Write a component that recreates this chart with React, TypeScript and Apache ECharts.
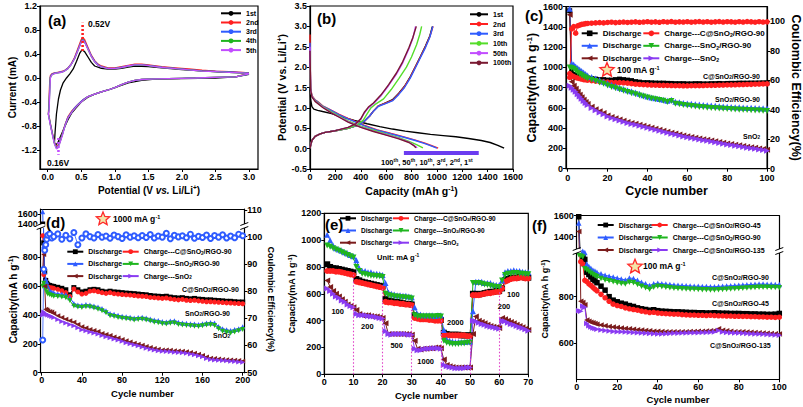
import React, { useEffect, useRef } from 'react';
import * as echarts from 'echarts';

const FONT = '"Liberation Sans", Arial, Helvetica, sans-serif';
const BLACK = '#000000';
const RED = '#ff2020';
const BLUE = '#2f5cff';
const GREEN = '#1fb51f';
const MAROON = '#7b1c1c';
const PURPLE = '#8a3bf2';
const VIOLET = '#c24dff';
const LIME = '#55dd2a';
const WINE = '#7a1a32';
const PINK = '#e040c8';

// ---------- (a) cyclic voltammetry ----------
const cvV = [3.0, 2.8, 2.5, 2.2, 2.0, 1.8, 1.6, 1.4, 1.3, 1.2, 1.1, 1.0, 0.9, 0.8, 0.7, 0.6, 0.53, 0.45, 0.4, 0.36, 0.3, 0.26, 0.22, 0.18, 0.15, 0.13, 0.1, 0.07, 0.04, 0.02, 0.01,
  0.02, 0.03, 0.04, 0.06, 0.1, 0.15, 0.2, 0.25, 0.3, 0.35, 0.4, 0.45, 0.5, 0.52, 0.55, 0.6, 0.65, 0.7, 0.75, 0.8, 0.9, 1.0, 1.1, 1.2, 1.3, 1.4, 1.5, 1.7, 1.9, 2.1, 2.3, 2.5, 2.7, 2.9, 3.0];
const cvI2 = [0.08, 0.02, 0.01, 0.0, -0.005, -0.01, -0.015, -0.025, -0.04, -0.07, -0.11, -0.16, -0.2, -0.23, -0.27, -0.31, -0.36, -0.44, -0.5, -0.55, -0.65, -0.77, -0.92, -1.06, -1.13, -1.14, -1.07, -0.92, -0.76, -0.64, -0.6,
  -0.35, -0.05, 0.04, 0.07, 0.085, 0.095, 0.105, 0.125, 0.165, 0.235, 0.34, 0.49, 0.64, 0.68, 0.64, 0.51, 0.38, 0.29, 0.23, 0.2, 0.17, 0.17, 0.19, 0.21, 0.23, 0.23, 0.22, 0.19, 0.17, 0.15, 0.13, 0.115, 0.105, 0.095, 0.085];
const cvI3 = [0.07, 0.02, 0.01, 0.0, -0.005, -0.01, -0.015, -0.025, -0.04, -0.07, -0.11, -0.16, -0.2, -0.23, -0.27, -0.31, -0.36, -0.44, -0.5, -0.56, -0.66, -0.78, -0.93, -1.07, -1.15, -1.16, -1.08, -0.93, -0.77, -0.66, -0.61,
  -0.45, -0.15, 0.02, 0.06, 0.08, 0.09, 0.1, 0.12, 0.16, 0.23, 0.33, 0.47, 0.61, 0.65, 0.61, 0.49, 0.37, 0.28, 0.22, 0.19, 0.16, 0.16, 0.18, 0.2, 0.22, 0.22, 0.21, 0.18, 0.16, 0.14, 0.12, 0.11, 0.1, 0.09, 0.08];
const cvI4 = [0.07, 0.02, 0.01, 0.0, -0.005, -0.01, -0.015, -0.025, -0.04, -0.07, -0.11, -0.16, -0.2, -0.23, -0.27, -0.31, -0.37, -0.45, -0.51, -0.57, -0.67, -0.79, -0.94, -1.08, -1.16, -1.17, -1.09, -0.94, -0.78, -0.66, -0.6,
  -0.5, -0.2, 0.01, 0.05, 0.075, 0.085, 0.095, 0.115, 0.155, 0.225, 0.32, 0.46, 0.6, 0.64, 0.6, 0.48, 0.36, 0.27, 0.21, 0.185, 0.155, 0.155, 0.175, 0.195, 0.215, 0.215, 0.205, 0.175, 0.155, 0.135, 0.115, 0.105, 0.095, 0.085, 0.075];
const cvI5 = [0.07, 0.02, 0.01, 0.0, -0.005, -0.01, -0.015, -0.025, -0.04, -0.07, -0.11, -0.16, -0.2, -0.23, -0.27, -0.31, -0.37, -0.45, -0.51, -0.57, -0.67, -0.79, -0.95, -1.09, -1.17, -1.18, -1.1, -0.95, -0.79, -0.67, -0.6,
  -0.55, -0.25, 0.0, 0.05, 0.075, 0.085, 0.095, 0.115, 0.155, 0.225, 0.32, 0.46, 0.6, 0.63, 0.6, 0.48, 0.36, 0.27, 0.21, 0.185, 0.155, 0.155, 0.175, 0.2, 0.22, 0.22, 0.205, 0.175, 0.155, 0.135, 0.115, 0.105, 0.095, 0.085, 0.075];
const cv1V = [3.0, 2.8, 2.5, 2.0, 1.6, 1.4, 1.2, 1.0, 0.9, 0.8, 0.7, 0.6, 0.5, 0.42, 0.36, 0.3, 0.25, 0.2, 0.15, 0.12, 0.1, 0.11, 0.13, 0.16, 0.19, 0.23, 0.28, 0.33, 0.38, 0.43, 0.48, 0.51, 0.55, 0.6, 0.65, 0.7, 0.8, 0.9, 1.0, 1.1, 1.2, 1.3, 1.5, 1.7, 2.0, 2.3, 2.6, 3.0];
const cv1I = [0.06, 0.02, 0.0, -0.01, -0.02, -0.04, -0.08, -0.16, -0.2, -0.23, -0.27, -0.32, -0.4, -0.5, -0.58, -0.7, -0.82, -0.95, -1.08, -1.12, -1.08, -0.9, -0.6, -0.35, -0.2, -0.08, 0.0, 0.07, 0.15, 0.28, 0.42, 0.47, 0.44, 0.35, 0.26, 0.2, 0.16, 0.15, 0.15, 0.16, 0.18, 0.2, 0.19, 0.17, 0.14, 0.12, 0.1, 0.08];
const cvPeakOx = [[0.52, 0.45], [0.52, 0.92]];
const cvPeakRed = [[0.16, -1.0], [0.16, -1.28]];
const cvTicksX = [0, 0.5, 1, 1.5, 2, 2.5, 3];
const cvTicksY = [-1.2, -0.8, -0.4, 0, 0.4, 0.8, 1.2];

// ---------- (b) charge / discharge profiles [capacity, V] ----------
const b1Dis = [[0, 1.5], [5, 1.2], [15, 1.03], [30, 0.97], [60, 0.94], [100, 0.91], [170, 0.86], [250, 0.78], [350, 0.69], [450, 0.61], [550, 0.54], [650, 0.48], [750, 0.43], [850, 0.39], [950, 0.35], [1050, 0.32], [1150, 0.29], [1250, 0.25], [1350, 0.2], [1420, 0.15], [1480, 0.08], [1530, 0.01]];
const b1Chg = [[0, 0.01], [5, 0.08], [15, 0.2], [40, 0.3], [80, 0.36], [120, 0.4], [200, 0.44], [300, 0.5], [380, 0.58], [430, 0.68], [470, 0.8], [500, 0.92], [540, 1.05], [600, 1.13], [650, 1.2], [700, 1.36], [745, 1.53], [790, 1.76], [830, 2.01], [870, 2.26], [910, 2.52], [945, 2.77], [965, 3.0]];
const b2Dis = [[0, 2.8], [2, 2.0], [5, 1.5], [15, 1.3], [40, 1.2], [63, 1.15], [100, 1.05], [170, 0.94], [230, 0.84], [300, 0.74], [430, 0.57], [530, 0.46], [640, 0.37], [740, 0.29], [830, 0.21], [900, 0.14], [960, 0.07], [1010, 0.01]];
const b2Chg = [[0, 0.01], [5, 0.08], [15, 0.2], [40, 0.3], [80, 0.36], [120, 0.4], [200, 0.44], [300, 0.5], [380, 0.58], [430, 0.68], [470, 0.8], [500, 0.92], [540, 1.05], [600, 1.12], [653, 1.19], [700, 1.35], [745, 1.52], [790, 1.75], [830, 2.0], [870, 2.25], [910, 2.5], [945, 2.75], [970, 3.0]];
const b3Dis = [[0, 2.6], [2, 1.9], [5, 1.48], [15, 1.29], [40, 1.19], [63, 1.14], [100, 1.04], [170, 0.93], [230, 0.83], [300, 0.73], [430, 0.56], [530, 0.45], [640, 0.36], [740, 0.28], [830, 0.2], [900, 0.13], [960, 0.06], [1000, 0.01]];
const b3Chg = [[0, 0.01], [5, 0.08], [15, 0.2], [40, 0.3], [80, 0.36], [120, 0.4], [200, 0.44], [300, 0.5], [380, 0.58], [430, 0.68], [470, 0.8], [500, 0.92], [540, 1.04], [600, 1.11], [653, 1.18], [700, 1.33], [745, 1.5], [790, 1.73], [830, 1.98], [870, 2.23], [910, 2.48], [945, 2.74], [968, 3.0]];
const b10Dis = [[0, 2.0], [5, 1.45], [15, 1.28], [40, 1.18], [100, 1.03], [170, 0.9], [230, 0.8], [300, 0.68], [400, 0.55], [500, 0.45], [600, 0.36], [700, 0.27], [780, 0.18], [840, 0.1], [890, 0.02]];
const b10Chg = [[0, 0.01], [5, 0.08], [15, 0.2], [40, 0.3], [80, 0.36], [120, 0.4], [200, 0.44], [300, 0.5], [370, 0.58], [420, 0.7], [450, 0.85], [480, 1.0], [520, 1.1], [580, 1.22], [640, 1.45], [700, 1.72], [760, 2.0], [800, 2.25], [840, 2.55], [865, 2.8], [880, 3.0]];
const b50Dis = [[0, 2.5], [5, 1.45], [15, 1.28], [40, 1.17], [100, 1.02], [170, 0.88], [230, 0.78], [300, 0.66], [400, 0.53], [500, 0.43], [600, 0.34], [700, 0.25], [780, 0.16], [820, 0.08], [845, 0.02]];
const b50Chg = [[0, 0.01], [5, 0.08], [15, 0.2], [40, 0.3], [80, 0.36], [120, 0.4], [200, 0.44], [300, 0.52], [360, 0.6], [400, 0.72], [430, 0.88], [460, 1.0], [500, 1.1], [560, 1.3], [620, 1.55], [680, 1.82], [730, 2.1], [780, 2.45], [810, 2.7], [832, 3.0]];
const b100Dis = [[0, 2.4], [5, 1.44], [15, 1.27], [40, 1.16], [100, 1.01], [170, 0.87], [230, 0.77], [300, 0.65], [400, 0.52], [500, 0.42], [600, 0.33], [700, 0.24], [780, 0.15], [815, 0.08], [835, 0.02]];
const b100Chg = [[0, 0.01], [5, 0.08], [15, 0.2], [40, 0.3], [80, 0.36], [120, 0.4], [200, 0.44], [300, 0.52], [360, 0.61], [400, 0.73], [430, 0.9], [460, 1.02], [500, 1.12], [560, 1.32], [620, 1.57], [680, 1.85], [730, 2.13], [780, 2.48], [810, 2.72], [838, 3.0]];
const bArrow = [[740, -0.1], [1330, -0.1]];

// ---------- (c) & (f) cycle index ----------
const cycles100 = [1, 2, 3, 4, 5, 6, 7, 8, 9, 10, 12, 14, 16, 18, 20, 22, 24, 26, 28, 30, 32, 34, 36, 38, 40, 42, 44, 46, 48, 50, 52, 54, 56, 58, 60, 62, 64, 66, 68, 70, 72, 74, 76, 78, 80, 82, 84, 86, 88, 90, 92, 94, 96, 98, 100];

// (c) 100 mA g-1
const cDisC = [1560, 960, 930, 920, 915, 910, 905, 900, 900, 895, 890, 885, 880, 880, 875, 875, 880, 885, 880, 875, 870, 860, 855, 850, 850, 848, 846, 845, 845, 843, 842, 840, 840, 840, 838, 838, 840, 840, 838, 838, 840, 840, 842, 840, 842, 843, 843, 845, 845, 845, 846, 846, 847, 848, 848];
const cChgC = [940, 920, 910, 900, 895, 890, 885, 880, 878, 875, 870, 865, 860, 858, 855, 852, 850, 850, 848, 845, 840, 835, 832, 830, 828, 826, 825, 824, 823, 822, 821, 820, 820, 819, 819, 820, 820, 820, 821, 822, 823, 824, 825, 826, 827, 828, 829, 830, 831, 832, 833, 835, 836, 837, 838];
const cDisS = [1580, 1040, 1030, 1010, 995, 980, 965, 950, 935, 920, 905, 890, 875, 860, 845, 830, 815, 800, 788, 775, 765, 752, 740, 725, 712, 703, 695, 688, 680, 672, 682, 662, 656, 650, 645, 641, 637, 633, 630, 627, 624, 621, 618, 615, 612, 610, 608, 606, 604, 603, 601, 600, 598, 597, 595];
const cChgS = [1000, 995, 985, 970, 950, 935, 922, 910, 900, 890, 878, 866, 852, 838, 822, 808, 795, 782, 770, 758, 746, 735, 724, 714, 702, 694, 686, 678, 670, 660, 668, 642, 636, 630, 624, 619, 614, 610, 606, 603, 600, 597, 594, 591, 589, 587, 585, 583, 581, 579, 578, 576, 574, 572, 570];
const cDisO = [1520, 860, 820, 790, 760, 730, 705, 680, 660, 640, 612, 588, 568, 550, 525, 510, 498, 486, 474, 462, 452, 443, 434, 424, 415, 405, 395, 385, 375, 365, 356, 347, 338, 329, 320, 313, 306, 299, 292, 285, 278, 271, 264, 257, 250, 244, 237, 231, 224, 218, 212, 206, 200, 194, 188];
const cChgO = [820, 800, 780, 760, 735, 712, 690, 668, 648, 628, 600, 577, 556, 538, 515, 500, 488, 476, 464, 452, 442, 433, 424, 414, 405, 395, 385, 375, 365, 355, 346, 337, 328, 319, 310, 303, 296, 289, 282, 275, 268, 261, 254, 247, 240, 234, 227, 221, 214, 208, 202, 196, 190, 184, 178];
const cCE = [62, 95, 96.5, 92, 97, 97.5, 98, 98.2, 98.5, 98.6, 98.8, 99, 99.2, 99, 99.3, 99.5, 99.2, 99.4, 99.6, 99.3, 99.5, 99.7, 99.4, 99.6, 99.8, 99.5, 99.7, 99.4, 99.8, 99.6, 99.9, 99.5, 99.7, 99.6, 99.8, 99.5, 99.7, 99.9, 99.6, 99.8, 99.5, 99.7, 99.9, 99.6, 99.8, 99.7, 99.5, 99.8, 99.6, 99.9, 99.7, 99.5, 99.8, 99.6, 99.7];

// ---------- (d) 1000 mA g-1 ----------
const cyclesD = [1, 2, 3, 4, 5, 6, 8, 10, 12, 16, 20, 24, 28, 32, 36, 40, 44, 48, 52, 56, 60, 64, 68, 72, 76, 80, 84, 88, 92, 96, 100, 104, 108, 112, 116, 120, 124, 128, 132, 136, 140, 144, 148, 152, 156, 160, 164, 168, 172, 176, 180, 184, 188, 192, 196, 200];
const dDisC = [1400, 900, 700, 640, 620, 610, 605, 600, 598, 592, 585, 575, 540, 590, 575, 560, 565, 575, 578, 575, 565, 560, 565, 560, 558, 555, 552, 550, 548, 545, 542, 540, 535, 532, 530, 528, 530, 524, 520, 518, 520, 515, 512, 515, 510, 508, 505, 505, 502, 500, 498, 495, 495, 492, 490, 490];
const dChgC = [950, 680, 620, 605, 598, 595, 590, 588, 585, 578, 568, 555, 528, 580, 560, 545, 550, 565, 568, 562, 555, 550, 555, 548, 545, 542, 540, 538, 535, 532, 530, 528, 522, 520, 518, 515, 518, 512, 508, 505, 508, 502, 500, 502, 498, 495, 492, 492, 490, 488, 486, 484, 483, 481, 480, 478];
const dDisS = [1650, 880, 700, 650, 630, 600, 570, 560, 555, 548, 545, 540, 520, 480, 470, 468, 472, 470, 462, 455, 445, 430, 410, 405, 398, 392, 388, 385, 380, 382, 385, 380, 372, 365, 362, 355, 352, 358, 360, 350, 345, 342, 340, 338, 335, 340, 345, 348, 345, 320, 305, 298, 292, 300, 305, 318];
const dChgS = [600, 620, 600, 580, 560, 545, 540, 535, 530, 528, 525, 520, 500, 462, 455, 452, 458, 455, 448, 440, 430, 415, 395, 390, 382, 378, 374, 370, 365, 368, 370, 365, 358, 350, 346, 340, 338, 342, 345, 335, 330, 328, 325, 322, 320, 325, 330, 332, 328, 305, 288, 280, 275, 282, 290, 300];
const dDisO = [720, 820, 600, 440, 435, 430, 425, 420, 410, 395, 382, 370, 360, 350, 335, 318, 310, 300, 292, 285, 272, 265, 258, 248, 240, 230, 222, 212, 205, 198, 190, 182, 175, 168, 162, 158, 158, 155, 152, 150, 148, 145, 140, 135, 128, 120, 108, 100, 98, 95, 92, 90, 88, 86, 84, 80];
const dChgO = [400, 420, 410, 408, 405, 400, 395, 390, 382, 368, 355, 345, 335, 325, 312, 298, 290, 282, 275, 268, 258, 250, 242, 234, 226, 218, 208, 200, 193, 186, 178, 170, 163, 157, 152, 148, 147, 145, 142, 140, 138, 135, 130, 125, 118, 110, 98, 92, 88, 86, 84, 82, 80, 78, 75, 72];
const dCE = [62, 88, 95, 97, 99, 100.5, 101, 99.5, 100, 101, 99, 100.5, 99.2, 101.5, 97, 99.5, 101, 100, 99.5, 100.8, 99.8, 100.2, 99.4, 100.6, 100, 99.3, 100.7, 99.8, 100.3, 99.6, 100.4, 99.7, 100.8, 99.5, 100.2, 99.8, 101.2, 99.2, 100.5, 99.9, 100.3, 99.6, 100.9, 99.4, 100.1, 99.7, 100.6, 99.3, 100.4, 99.8, 100.7, 99.5, 100.2, 99.6, 100.9, 100.3];

// ---------- (e) rate capability ----------
const cyclesE = [1, 2, 3, 4, 5, 6, 7, 8, 9, 10, 11, 12, 13, 14, 15, 16, 17, 18, 19, 20, 21, 22, 23, 24, 25, 26, 27, 28, 29, 30, 31, 32, 33, 34, 35, 36, 37, 38, 39, 40, 41, 42, 43, 44, 45, 46, 47, 48, 49, 50, 51, 52, 53, 54, 55, 56, 57, 58, 59, 60, 61, 62, 63, 64, 65, 66, 67, 68, 69, 70];
const eDisC = [820, 800, 790, 790, 785, 780, 775, 770, 765, 760, 710, 700, 690, 685, 680, 675, 670, 665, 660, 655, 560, 550, 545, 540, 540, 535, 530, 525, 525, 520, 440, 430, 425, 420, 420, 415, 415, 410, 410, 405, 310, 300, 295, 295, 295, 295, 290, 290, 290, 290, 600, 600, 595, 600, 605, 610, 615, 615, 620, 620, 640, 700, 710, 720, 720, 720, 725, 725, 720, 720];
const eChgC = [770, 770, 770, 765, 765, 760, 755, 750, 745, 740, 690, 685, 680, 675, 670, 665, 660, 655, 650, 645, 540, 535, 535, 530, 530, 525, 525, 520, 520, 515, 420, 415, 410, 410, 410, 405, 405, 400, 400, 400, 290, 290, 290, 290, 290, 290, 290, 290, 285, 285, 590, 590, 590, 595, 600, 605, 605, 610, 615, 615, 640, 690, 700, 710, 715, 715, 720, 720, 715, 715];
const eDisS = [1040, 1000, 960, 940, 930, 920, 910, 900, 890, 880, 850, 790, 770, 770, 760, 760, 750, 750, 745, 740, 680, 610, 600, 595, 590, 590, 585, 585, 580, 575, 500, 450, 445, 440, 440, 440, 440, 435, 440, 440, 330, 260, 250, 245, 240, 240, 240, 240, 245, 245, 470, 690, 690, 690, 680, 680, 680, 670, 665, 665, 700, 760, 770, 770, 775, 770, 770, 765, 760, 760];
const eChgS = [960, 950, 940, 930, 920, 910, 900, 890, 880, 870, 800, 770, 750, 745, 740, 735, 735, 730, 730, 725, 600, 590, 585, 580, 580, 575, 575, 570, 570, 565, 440, 430, 430, 430, 430, 430, 430, 430, 435, 430, 250, 235, 230, 225, 225, 225, 230, 230, 235, 235, 680, 680, 680, 675, 670, 665, 660, 655, 650, 650, 700, 740, 750, 750, 755, 755, 750, 750, 745, 745];
const eDisO = [700, 650, 620, 600, 580, 560, 540, 520, 510, 500, 480, 450, 440, 440, 440, 435, 430, 430, 425, 420, 380, 300, 300, 300, 300, 300, 300, 300, 300, 295, 250, 190, 185, 190, 190, 195, 195, 200, 200, 195, 110, 70, 60, 55, 50, 50, 50, 50, 50, 50, 300, 430, 400, 390, 380, 370, 360, 355, 350, 345, 420, 410, 400, 390, 380, 370, 360, 350, 340, 330];
const eChgO = [640, 620, 600, 580, 570, 550, 540, 520, 510, 500, 450, 440, 440, 440, 435, 430, 430, 425, 420, 415, 320, 300, 295, 300, 300, 300, 300, 300, 295, 295, 190, 180, 180, 185, 190, 190, 195, 195, 195, 190, 70, 60, 55, 50, 45, 45, 45, 45, 50, 50, 400, 395, 385, 375, 370, 360, 355, 350, 345, 340, 400, 395, 385, 375, 370, 360, 350, 345, 335, 325];
const rateEdges = [10, 20, 30, 40, 50, 60];
const rateEdgeTops = [760, 655, 520, 405, 290, 620];

// ---------- (f) 100 mA g-1, different RGO ----------
const fDis45 = [1590, 1080, 970, 960, 905, 895, 885, 875, 868, 860, 845, 828, 800, 785, 778, 772, 768, 762, 758, 752, 748, 745, 742, 744, 740, 738, 737, 736, 735, 735, 734, 733, 732, 732, 731, 731, 730, 730, 731, 730, 729, 729, 728, 728, 728, 727, 727, 726, 726, 725, 725, 724, 724, 725, 728];
const fChg45 = [1000, 950, 940, 870, 865, 855, 848, 840, 832, 825, 810, 795, 780, 768, 762, 758, 752, 748, 745, 742, 738, 735, 732, 733, 730, 728, 727, 726, 725, 725, 723, 722, 721, 721, 720, 720, 719, 720, 719, 718, 718, 717, 717, 716, 716, 715, 715, 714, 714, 713, 713, 712, 712, 711, 712];
const fDis90 = [1530, 1000, 995, 990, 940, 930, 922, 915, 910, 905, 898, 892, 888, 884, 880, 876, 872, 880, 878, 870, 862, 855, 848, 855, 858, 856, 854, 852, 850, 849, 848, 847, 846, 845, 845, 844, 844, 843, 843, 844, 845, 846, 847, 848, 849, 850, 851, 852, 853, 854, 854, 853, 853, 852, 852];
const fChg90 = [980, 975, 970, 920, 915, 908, 900, 895, 890, 885, 878, 872, 868, 864, 860, 857, 854, 862, 860, 852, 845, 838, 832, 840, 845, 843, 840, 838, 836, 835, 834, 833, 832, 832, 831, 830, 830, 829, 829, 830, 831, 832, 833, 834, 835, 836, 837, 838, 839, 840, 840, 840, 839, 839, 838];
const fDis135 = [1450, 780, 775, 765, 700, 695, 690, 688, 685, 682, 678, 675, 672, 670, 668, 666, 664, 662, 660, 658, 657, 655, 654, 652, 652, 651, 650, 650, 650, 650, 650, 650, 651, 651, 652, 652, 653, 654, 655, 662, 656, 654, 652, 650, 650, 649, 648, 647, 646, 645, 644, 643, 642, 641, 640];
const fChg135 = [740, 738, 760, 755, 685, 675, 670, 666, 663, 660, 657, 655, 653, 651, 650, 649, 648, 647, 646, 645, 644, 643, 642, 641, 640, 640, 641, 642, 643, 643, 644, 644, 645, 645, 645, 646, 646, 647, 648, 655, 648, 646, 645, 644, 644, 643, 642, 641, 640, 640, 639, 638, 637, 636, 635];

const legendLabels: Record<string, string> = {
  a1: '1st', a2: '2nd', a3: '3rd', a4: '4th', a5: '5th',
  b1: '1st', b2: '2nd', b3: '3rd', b10: '10th', b50: '50th', b100: '100th',
  c_d1: 'Discharge', c_d2: 'Discharge', c_d3: 'Discharge',
  c_c1: 'Charge---C@SnO{sub|2}/RGO-90', c_c2: 'Charge---SnO{sub|2}/RGO-90', c_c3: 'Charge---SnO{sub|2}',
  d_d1: 'Discharge', d_d2: 'Discharge', d_d3: 'Discharge',
  d_c1: 'Charge---C@SnO{sub|2}/RGO-90', d_c2: 'Charge---SnO{sub|2}/RGO-90', d_c3: 'Charge---SnO{sub|2}',
  e_d1: 'Discharge', e_d2: 'Discharge', e_d3: 'Discharge',
  e_c1: 'Charge---C@SnO{sub|2}/RGO-90', e_c2: 'Charge---SnO{sub|2}/RGO-90', e_c3: 'Charge---SnO{sub|2}',
  f_d1: 'Discharge', f_d2: 'Discharge', f_d3: 'Discharge',
  f_c1: 'Charge---C@SnO{sub|2}/RGO-45', f_c2: 'Charge---C@SnO{sub|2}/RGO-90', f_c3: 'Charge---C@SnO{sub|2}/RGO-135',
};

// ---------- helpers ----------
const pairs = (xs: number[], ys: number[]) => xs.map((x, i) => [x, ys[i]]);
const f1 = (v: number) => v.toFixed(1);
const plain = (v: number) => String(Math.round(v * 1000) / 1000);

const richTok = (s: number, key: 'color' | 'fill' = 'color') => {
  const base: any = { fontWeight: 'bold', fontFamily: FONT };
  base[key] = '#000';
  const small = Math.round(s * 0.65 * 10) / 10;
  return {
    n: { ...base, fontSize: s },
    i: { ...base, fontSize: s, fontStyle: 'italic' },
    sup: { ...base, fontSize: small, lineHeight: small, padding: [0, 0, s * 0.45, 0] },
    sub: { ...base, fontSize: small, lineHeight: small, padding: [s * 0.45, 0, 0, 0] },
  };
};

function mkAxis(o: any) {
  const s = o.labelSize ?? 9;
  const ns = o.nameSize ?? 10;
  const ax: any = {
    type: 'value',
    gridIndex: o.grid,
    position: o.pos,
    min: o.min,
    max: o.max,
    splitLine: { show: false },
    axisLine: { show: true, onZero: false, lineStyle: { color: '#000', width: 1.2 } },
    axisTick: { show: o.ticks !== false, inside: false, length: 3, lineStyle: { color: '#000', width: 1 } },
    axisLabel: { show: o.labels !== false, color: '#000', fontSize: s, fontWeight: 'bold', fontFamily: FONT, margin: o.margin ?? 3, formatter: o.fmt ?? plain },
    silent: true,
  };
  if (o.interval) ax.interval = o.interval;
  if (o.values) {
    ax.axisTick.customValues = o.values;
    ax.axisLabel.customValues = o.values;
  }
  if (o.name) {
    ax.name = o.name;
    ax.nameLocation = 'middle';
    ax.nameGap = o.nameGap;
    if (o.nameRotate != null) ax.nameRotate = o.nameRotate;
    ax.nameTextStyle = { color: '#000', fontSize: ns, fontWeight: 'bold', fontFamily: FONT, rich: richTok(ns) };
  }
  return ax;
}

function plainLine(name: string, data: number[][], color: string, xi: number, yi: number, width = 1.3) {
  return {
    type: 'line', name, data, xAxisIndex: xi, yAxisIndex: yi, symbol: 'none',
    lineStyle: { color, width }, itemStyle: { color }, silent: true, z: 3,
  };
}

function symLine(name: string, xs: number[], ys: number[], color: string, symbol: string, rotate: number, size: number, xi: number, yi: number) {
  return {
    type: 'line', name, data: pairs(xs, ys), xAxisIndex: xi, yAxisIndex: yi,
    symbol, symbolRotate: rotate, symbolSize: size, showSymbol: true,
    lineStyle: { color, width: 1 }, itemStyle: { color, borderWidth: 0 }, silent: true, z: 3,
  };
}

function mkLegend(data: string[], left: number, top: number, o: any) {
  return {
    data, left, top, orient: 'vertical', padding: 0, selectedMode: false,
    itemWidth: o.w, itemHeight: o.h, itemGap: o.gap,
    formatter: (name: string) => legendLabels[name] ?? name,
    textStyle: { color: '#000', fontSize: o.fs, fontWeight: 'bold', fontFamily: FONT, lineHeight: o.lh, rich: richTok(o.fs) },
  };
}

function T(text: string, x: number, y: number, size: number, align = 'left', rotation = 0) {
  return {
    type: 'text', x, y, rotation, z: 100, silent: true,
    style: { text, fill: '#000', fontSize: size, fontWeight: 'bold', fontFamily: FONT, align, verticalAlign: 'middle', rich: richTok(size, 'fill') },
  };
}

function star(cx: number, cy: number, R: number) {
  const pts: number[][] = [];
  for (let k = 0; k < 10; k++) {
    const a = -Math.PI / 2 + (k * Math.PI) / 5;
    const rr = k % 2 === 0 ? R : R * 0.45;
    pts.push([cx + rr * Math.cos(a), cy + rr * Math.sin(a)]);
  }
  return { type: 'polygon', z: 100, silent: true, shape: { points: pts }, style: { fill: '#f3e4a8', stroke: '#ff2a2a', lineWidth: 1.3 } };
}

function brk(x: number, y: number) {
  return [
    { type: 'rect', z: 100, silent: true, shape: { x: x - 4, y: y - 2, width: 8, height: 4 }, style: { fill: '#fff' } },
    { type: 'line', z: 101, silent: true, shape: { x1: x - 4, y1: y - 0.5, x2: x + 4, y2: y - 3.5 }, style: { stroke: '#000', lineWidth: 1 } },
    { type: 'line', z: 101, silent: true, shape: { x1: x - 4, y1: y + 3.5, x2: x + 4, y2: y + 0.5 }, style: { stroke: '#000', lineWidth: 1 } },
  ];
}

function buildOption() {
  const frame = { show: true, borderColor: '#000', borderWidth: 1.2, backgroundColor: 'transparent' };
  const grid = [
    { left: 40, top: 6, width: 218, height: 163, ...frame },
    { left: 310, top: 6, width: 203, height: 163, ...frame },
    { left: 566, top: 6.7, width: 203.3, height: 162, ...frame },
    { left: 40.7, top: 226, width: 203.6, height: 146.7 },
    { left: 40.7, top: 209, width: 203.6, height: 17 },
    { left: 324.3, top: 213.3, width: 204, height: 161, ...frame },
    { left: 576.7, top: 251, width: 202.6, height: 128.3 },
    { left: 576.7, top: 215.7, width: 202.6, height: 35.3 },
  ];

  const xAxis = [
    mkAxis({ grid: 0, pos: 'bottom', min: -0.115, max: 3.134, values: cvTicksX, fmt: f1, name: 'Potential (V {i|vs.} Li/Li{sup|+})', nameGap: 16, nameSize: 10 }),
    mkAxis({ grid: 1, pos: 'bottom', min: 0, max: 1600, interval: 200, name: 'Capacity (mAh g{sup|-1})', nameGap: 16, nameSize: 10.5 }),
    mkAxis({ grid: 2, pos: 'bottom', min: -0.85, max: 100, values: [0, 20, 40, 60, 80, 100], margin: 5, name: 'Cycle number', nameGap: 16, nameSize: 12.5 }),
    mkAxis({ grid: 3, pos: 'bottom', min: -1, max: 201.6, values: [0, 40, 80, 120, 160, 200], name: 'Cycle number', nameGap: 16, nameSize: 9.5 }),
    mkAxis({ grid: 4, pos: 'top', min: -1, max: 201.6, ticks: false, labels: false }),
    mkAxis({ grid: 5, pos: 'bottom', min: 0, max: 70, interval: 10, name: 'Cycle number', nameGap: 16, nameSize: 9.5 }),
    mkAxis({ grid: 6, pos: 'bottom', min: 0, max: 100, interval: 20, name: 'Cycle number', nameGap: 15, nameSize: 9.5 }),
    mkAxis({ grid: 7, pos: 'top', min: 0, max: 100, ticks: false, labels: false }),
  ];

  const yAxis = [
    mkAxis({ grid: 0, pos: 'left', min: -1.517, max: 1.2, values: cvTicksY, fmt: f1, name: 'Current (mA)', nameGap: 22, nameSize: 10 }),
    mkAxis({ grid: 1, pos: 'left', min: -0.5, max: 3.5, interval: 0.5, fmt: f1, name: 'Potential (V vs. Li/Li{sup|+})', nameGap: 21, nameSize: 10.5 }),
    mkAxis({ grid: 2, pos: 'left', min: 0, max: 1600, interval: 200, name: 'Capacity(mA h g{sup|-1})', nameGap: 24, nameSize: 12.5 }),
    mkAxis({ grid: 2, pos: 'right', min: 0, max: 110, values: [0, 20, 40, 60, 80, 100], name: 'Coulombic Efficiency(%)', nameGap: 19, nameSize: 12.5, nameRotate: -90 }),
    mkAxis({ grid: 3, pos: 'left', min: 0, max: 1017, values: [0, 200, 400, 600, 800], name: 'Capacity(mA h g{sup|-1})', nameGap: 22, nameSize: 10 }),
    mkAxis({ grid: 3, pos: 'right', min: 50, max: 103.9, values: [50, 60, 70, 80, 90, 100], name: 'Coulombic Efficiency(%)', nameGap: 19, nameSize: 9, nameRotate: -90 }),
    mkAxis({ grid: 4, pos: 'left', min: 1359, max: 1709, values: [1400, 1600] }),
    mkAxis({ grid: 4, pos: 'right', min: 104, max: 110.5, values: [110] }),
    mkAxis({ grid: 5, pos: 'left', min: 0, max: 1200, interval: 200, name: 'Capacity(mA h g{sup|-1})', nameGap: 25, nameSize: 9 }),
    mkAxis({ grid: 6, pos: 'left', min: 445.5, max: 996, values: [600, 800] }),
    mkAxis({ grid: 6, pos: 'right', min: 445.5, max: 996, ticks: false, labels: false }),
    mkAxis({ grid: 7, pos: 'left', min: 1264, max: 1600, values: [1400, 1600] }),
    mkAxis({ grid: 7, pos: 'right', min: 1264, max: 1600, ticks: false, labels: false }),
  ];

  const series: any[] = [];
  // (a)
  series.push(plainLine('a1', pairs(cv1V, cv1I), BLACK, 0, 0));
  series.push(plainLine('a2', pairs(cvV, cvI2), RED, 0, 0));
  series.push(plainLine('a3', pairs(cvV, cvI3), BLUE, 0, 0));
  series.push(plainLine('a4', pairs(cvV, cvI4), GREEN, 0, 0));
  series.push(plainLine('a5', pairs(cvV, cvI5), VIOLET, 0, 0));
  series.push({ ...plainLine('a_pk1', cvPeakOx, RED, 0, 0, 2.6), lineStyle: { color: RED, width: 2.6, type: [2, 2] } });
  series.push({ ...plainLine('a_pk2', cvPeakRed, VIOLET, 0, 0, 2.6), lineStyle: { color: VIOLET, width: 2.6, type: [2, 2] } });

  // (b)
  const bSets: [string, number[][], number[][], string][] = [
    ['b1', b1Dis, b1Chg, BLACK], ['b2', b2Dis, b2Chg, RED], ['b3', b3Dis, b3Chg, BLUE],
    ['b10', b10Dis, b10Chg, LIME], ['b50', b50Dis, b50Chg, VIOLET], ['b100', b100Dis, b100Chg, WINE],
  ];
  bSets.forEach(([n, dis, chg, col]) => {
    series.push(plainLine(n, dis, col, 1, 1, 1.4));
    series.push(plainLine(n + 'c', chg, col, 1, 1, 1.4));
  });
  series.push({
    type: 'line', name: 'b_arrow', data: [], xAxisIndex: 1, yAxisIndex: 1, silent: true,
    markLine: {
      silent: true, symbol: ['none', 'arrow'], symbolSize: [0, 11], label: { show: false },
      lineStyle: { color: '#6b3cf0', width: 4, type: 'solid' },
      data: [[{ coord: bArrow[0] }, { coord: bArrow[1] }]],
    },
  });

  // (c)
  series.push(symLine('c_d1', cycles100, cDisC, BLACK, 'rect', 0, 5, 2, 2));
  series.push(symLine('c_c1', cycles100, cChgC, RED, 'circle', 0, 5.5, 2, 2));
  series.push(symLine('c_d2', cycles100, cDisS, BLUE, 'triangle', 0, 6, 2, 2));
  series.push(symLine('c_c2', cycles100, cChgS, GREEN, 'triangle', 180, 6, 2, 2));
  series.push(symLine('c_d3', cycles100, cDisO, MAROON, 'triangle', 90, 6, 2, 2));
  series.push(symLine('c_c3', cycles100, cChgO, PURPLE, 'triangle', -90, 6, 2, 2));
  series.push(symLine('c_ce', cycles100, cCE, RED, 'circle', 0, 5.5, 2, 3));

  // (d) bottom and top (broken axis)
  const dSets: [string, number[], string, string, number][] = [
    ['d_d1', dDisC, BLACK, 'rect', 0], ['d_c1', dChgC, RED, 'circle', 0],
    ['d_d2', dDisS, BLUE, 'triangle', 0], ['d_c2', dChgS, GREEN, 'triangle', 180],
    ['d_d3', dDisO, MAROON, 'triangle', 90], ['d_c3', dChgO, PURPLE, 'triangle', -90],
  ];
  dSets.forEach(([n, ys, col, sy, rot]) => {
    series.push(symLine(n, cyclesD, ys, col, sy, rot, 5, 3, 4));
    series.push(symLine(n + 't', cyclesD, ys, col, sy, rot, 5, 4, 6));
  });
  series.push({
    ...symLine('d_ce', cyclesD, dCE, BLUE, 'emptyCircle', 0, 5, 3, 5),
    lineStyle: { color: BLUE, width: 0.8 },
    itemStyle: { color: BLUE, borderColor: BLUE, borderWidth: 1 },
  });

  // (e)
  const eSets: [string, number[], string, string, number][] = [
    ['e_d1', eDisC, BLACK, 'rect', 0], ['e_c1', eChgC, RED, 'circle', 0],
    ['e_d2', eDisS, BLUE, 'triangle', 0], ['e_c2', eChgS, GREEN, 'triangle', 180],
    ['e_d3', eDisO, MAROON, 'triangle', 90], ['e_c3', eChgO, PURPLE, 'triangle', -90],
  ];
  eSets.forEach(([n, ys, col, sy, rot]) => series.push(symLine(n, cyclesE, ys, col, sy, rot, 6, 5, 8)));
  series.push({
    type: 'line', name: 'e_edges', data: [], xAxisIndex: 5, yAxisIndex: 8, silent: true, z: 2,
    markLine: {
      silent: true, symbol: ['none', 'none'], label: { show: false },
      lineStyle: { color: PINK, width: 1.1, type: [1.5, 2] },
      data: rateEdges.map((x, i) => [{ coord: [x, 0] }, { coord: [x, rateEdgeTops[i]] }]),
    },
  });

  // (f)
  const fSets: [string, number[], string, string, number][] = [
    ['f_d1', fDis45, BLACK, 'rect', 0], ['f_c1', fChg45, RED, 'circle', 0],
    ['f_d2', fDis90, BLUE, 'triangle', 0], ['f_c2', fChg90, GREEN, 'triangle', 180],
    ['f_d3', fDis135, MAROON, 'triangle', 90], ['f_c3', fChg135, PURPLE, 'triangle', -90],
  ];
  fSets.forEach(([n, ys, col, sy, rot]) => {
    series.push(symLine(n, cycles100, ys, col, sy, rot, 5.5, 6, 9));
    series.push(symLine(n + 't', cycles100, ys, col, sy, rot, 5.5, 7, 11));
  });

  const legend = [
    mkLegend(['a1', 'a2', 'a3', 'a4', 'a5'], 220, 9.3, { w: 20, h: 6, gap: 1.2, fs: 7, lh: 8 }),
    mkLegend(['b1', 'b2', 'b3', 'b10', 'b50', 'b100'], 469, 10.3, { w: 18, h: 6, gap: 1.7, fs: 7, lh: 8 }),
    mkLegend(['c_d1', 'c_d2', 'c_d3'], 580.7, 28.3, { w: 16, h: 7, gap: 2.5, fs: 8, lh: 10 }),
    mkLegend(['c_c1', 'c_c2', 'c_c3'], 642.3, 28.3, { w: 16, h: 7, gap: 2.5, fs: 8, lh: 10 }),
    mkLegend(['d_d1', 'd_d2', 'd_d3'], 66.3, 246.7, { w: 16, h: 6, gap: 2.2, fs: 7, lh: 10 }),
    mkLegend(['d_c1', 'd_c2', 'd_c3'], 121.7, 246.7, { w: 16, h: 6, gap: 2.2, fs: 7, lh: 10 }),
    mkLegend(['e_d1', 'e_d2', 'e_d3'], 339, 213.3, { w: 16, h: 6, gap: 2.2, fs: 6.5, lh: 10 }),
    mkLegend(['e_c1', 'e_c2', 'e_c3'], 392, 213.3, { w: 16, h: 6, gap: 2.2, fs: 6.5, lh: 10 }),
    mkLegend(['f_d1', 'f_d2', 'f_d3'], 596.7, 220, { w: 16, h: 6, gap: 2.5, fs: 7, lh: 10 }),
    mkLegend(['f_c1', 'f_c2', 'f_c3'], 650.7, 220, { w: 16, h: 6, gap: 2.5, fs: 7, lh: 10 }),
  ];

  const graphic: any[] = [
    T('(a)', 48, 20, 15), T('(b)', 317, 18, 15), T('(c)', 525, 15, 15),
    T('(d)', 46, 222, 15), T('(e)', 325, 224, 15), T('(f)', 532, 225, 15),
    T('0.52V', 88, 24, 8.5), T('0.16V', 47, 163, 8.5),
    T('100{sup|th}, 50{sup|th}, 10{sup|th}, 3{sup|rd}, 2{sup|nd}, 1{sup|st}', 381, 162, 7.5),
    star(607, 70, 7.5), T('100 mA g{sup|-1}', 617, 70, 8.5),
    T('C@SnO{sub|2}/RGO-90', 703, 76, 7), T('SnO{sub|2}/RGO-90', 715, 99, 7), T('SnO{sub|2}', 743, 136, 7),
    star(103, 219, 7), T('1000 mA g{sup|-1}', 113, 219, 8.5),
    T('C@SnO{sub|2}/RGO-90', 182, 289, 7), T('SnO{sub|2}/RGO-90', 185, 313, 7), T('SnO{sub|2}', 213, 335, 7),
    T('Unit: mA g{sup|-1}', 377, 257, 7.5),
    T('100', 337.7, 311.7, 7.5, 'center'), T('200', 367.3, 326.7, 7.5, 'center'), T('500', 396.7, 345.7, 7.5, 'center'),
    T('1000', 425.7, 361.7, 7.5, 'center'), T('2000', 455.3, 322.7, 7.5, 'center'), T('200', 504, 306.7, 7.5, 'center'),
    T('100', 513.3, 294, 7.5, 'center'),
    star(635, 266.7, 7.5), T('100 mA g{sup|-1}', 643, 266, 8.5),
    T('C@SnO{sub|2}/RGO-90', 712, 277, 7), T('C@SnO{sub|2}/RGO-45', 712, 303, 7), T('C@SnO{sub|2}/RGO-135', 710, 345, 7),
    T('Capacity(mA h g{sup|-1})', 545, 299, 9, 'center', Math.PI / 2),
    ...brk(40.7, 226), ...brk(244.3, 226), ...brk(576.7, 251), ...brk(779.3, 251),
  ];

  return {
    animation: false,
    backgroundColor: '#ffffff',
    textStyle: { fontFamily: FONT },
    grid, xAxis, yAxis, series, legend, graphic,
  };
}

export default function App() {
  const ref = useRef<HTMLDivElement | null>(null);
  useEffect(() => {
    if (!ref.current) return;
    const chart = echarts.init(ref.current, null, { renderer: 'svg' });
    chart.setOption(buildOption() as any);
    return () => chart.dispose();
  }, []);
  return (
    <div
      ref={ref}
      style={{ position: 'fixed', left: 0, top: 0, width: 803, height: 407, background: '#fff' }}
    />
  );
}
